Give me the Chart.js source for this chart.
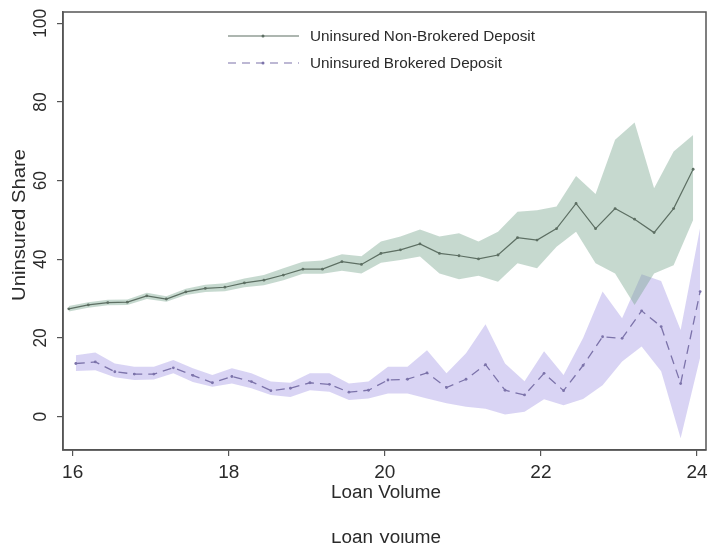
<!DOCTYPE html>
<html>
<head>
<meta charset="utf-8">
<script src="https://cdn.jsdelivr.net/npm/chart.js@4.4.1/dist/chart.umd.min.js"></script>
<style>
  html, body { margin: 0; padding: 0; background: #fff; }
</style>
</head>
<body>
<canvas id="chart" width="710" height="550"></canvas>
<script>
// loan volume bins (x)
const loanVolume = [16, 16.25, 16.5, 16.75, 17, 17.25, 17.5, 17.75, 18, 18.25, 18.5, 18.75,
  19, 19.25, 19.5, 19.75, 20, 20.25, 20.5, 20.75, 21, 21.25, 21.5, 21.75,
  22, 22.25, 22.5, 22.75, 23, 23.25, 23.5, 23.75, 24];

// uninsured non-brokered deposit share, with confidence band
const nonBrokered = [27.4, 28.4, 29.0, 29.1, 30.7, 29.9, 31.7, 32.6, 32.9, 34.0, 34.7, 36.0,
  37.5, 37.5, 39.4, 38.7, 41.5, 42.4, 43.9, 41.5, 40.9, 40.1, 41.1, 45.5,
  44.9, 47.8, 54.2, 47.8, 52.9, 50.2, 46.8, 52.9, 62.9];
const nonBrokeredHigh = [28.1, 29.1, 29.7, 29.8, 31.5, 30.6, 32.5, 33.5, 33.9, 35.1, 36.0, 37.7,
  39.4, 39.7, 41.3, 40.8, 44.5, 45.8, 47.6, 45.8, 46.6, 44.5, 47.0, 52.1,
  52.5, 53.4, 61.2, 56.6, 70.4, 74.8, 58.1, 67.4, 71.6];
const nonBrokeredLow = [26.7, 27.7, 28.3, 28.4, 29.9, 29.2, 30.9, 31.7, 31.9, 32.9, 33.4, 34.7,
  36.3, 36.3, 37.1, 36.4, 39.1, 39.8, 40.7, 36.4, 34.9, 35.8, 34.3, 39.0,
  37.7, 43.2, 47.0, 39.0, 36.4, 28.4, 36.4, 38.5, 50.0];

// uninsured brokered deposit share, with confidence band
const brokered = [13.5, 13.9, 11.4, 10.8, 10.8, 12.4, 10.5, 8.6, 10.2, 8.9, 6.6, 7.2,
  8.6, 8.2, 6.2, 6.7, 9.3, 9.5, 11.1, 7.4, 9.5, 13.2, 6.7, 5.5,
  11.0, 6.6, 13.0, 20.3, 19.9, 26.9, 22.9, 8.4, 31.8];
const brokeredHigh = [15.6, 16.3, 13.5, 12.7, 12.7, 14.4, 12.3, 10.6, 12.3, 11.0, 8.9, 8.6,
  11.0, 11.0, 8.4, 8.9, 12.7, 12.7, 16.9, 11.0, 16.1, 23.5, 13.5, 9.0,
  16.6, 10.6, 20.0, 31.8, 25.0, 36.2, 34.5, 22.0, 48.0];
const brokeredLow = [11.6, 11.8, 10.0, 9.3, 9.4, 11.0, 8.8, 7.6, 8.4, 7.2, 5.5, 5.0,
  6.7, 6.3, 4.2, 4.6, 5.9, 5.9, 4.6, 3.4, 2.5, 2.0, 0.5, 1.2,
  4.4, 2.9, 4.5, 8.0, 14.0, 17.8, 11.5, -5.5, 15.0];

const xTicks = [16, 18, 20, 22, 24];
const yTicks = [0, 20, 40, 60, 80, 100];

const greenLine = "#5d6f63";
const greenBand = "rgba(120,165,140,0.42)";
const purpleLine = "#7c73aa";
const purpleBand = "rgba(150,135,225,0.36)";
const frameColor = "#555";
const textColor = "#2a2a2a";

const pts = (ys, dx) => ys.map((y, i) => ({ x: loanVolume[i] + dx, y }));

function stretchedText(ctx, text, x, y, size, width, angle) {
  ctx.save();
  ctx.font = size + "px 'Liberation Sans', Arial, sans-serif";
  const w = ctx.measureText(text).width;
  ctx.translate(x, y);
  if (angle) ctx.rotate(angle);
  ctx.scale(width / w, 1);
  ctx.textAlign = "center";
  ctx.textBaseline = "middle";
  ctx.fillStyle = textColor;
  ctx.fillText(text, 0, 0);
  ctx.restore();
}

const decor = {
  id: "decor",
  afterDraw(chart) {
    const ctx = chart.ctx;
    const a = chart.chartArea;
    const ys = chart.scales.y;
    ctx.save();
    // frame
    ctx.strokeStyle = frameColor;
    ctx.lineWidth = 1.5;
    ctx.strokeRect(a.left, a.top, a.right - a.left, a.bottom - a.top);
    // y tick labels, rotated
    yTicks.forEach((v) => {
      const t = String(v);
      stretchedText(ctx, t, 41, ys.getPixelForValue(v), 18, t.length * 9.6, -Math.PI / 2);
    });
    // axis titles
    stretchedText(ctx, "Uninsured Share", 20, 225, 18, 152, -Math.PI / 2);
    stretchedText(ctx, "Loan Volume", 386, 493, 18, 110, 0);
    // cropped duplicate title at the bottom edge
    ctx.save();
    ctx.beginPath();
    ctx.rect(0, 533, 710, 17);
    ctx.clip();
    stretchedText(ctx, "Loan Volume", 386, 538, 18, 110, 0);
    ctx.restore();
    // legend
    ctx.lineWidth = 1.2;
    ctx.strokeStyle = greenLine;
    ctx.beginPath(); ctx.moveTo(228, 36); ctx.lineTo(299, 36); ctx.stroke();
    ctx.fillStyle = greenLine;
    ctx.beginPath(); ctx.arc(263, 36, 1.5, 0, Math.PI * 2); ctx.fill();
    ctx.strokeStyle = purpleLine;
    ctx.setLineDash([8, 6]);
    ctx.beginPath(); ctx.moveTo(228, 63); ctx.lineTo(299, 63); ctx.stroke();
    ctx.setLineDash([]);
    ctx.fillStyle = purpleLine;
    ctx.beginPath(); ctx.arc(263, 63, 1.5, 0, Math.PI * 2); ctx.fill();
    ctx.save();
    ctx.font = "15px 'Liberation Sans', Arial, sans-serif";
    const sx = 225 / ctx.measureText("Uninsured Non-Brokered Deposit").width;
    ctx.restore();
    [["Uninsured Non-Brokered Deposit", 37], ["Uninsured Brokered Deposit", 64]].forEach(([t, y]) => {
      ctx.save();
      ctx.font = "15px 'Liberation Sans', Arial, sans-serif";
      ctx.translate(310, y);
      ctx.scale(sx, 1);
      ctx.textBaseline = "middle";
      ctx.fillStyle = textColor;
      ctx.fillText(t, 0, 0);
      ctx.restore();
    });
    ctx.restore();
  }
};

new Chart(document.getElementById("chart"), {
  type: "line",
  data: {
    datasets: [
      { data: pts(nonBrokeredHigh, -0.05), borderWidth: 0, pointRadius: 0, fill: "+1", backgroundColor: greenBand, order: 2 },
      { data: pts(nonBrokeredLow, -0.05), borderWidth: 0, pointRadius: 0, fill: false, order: 2 },
      { label: "Uninsured Non-Brokered Deposit", data: pts(nonBrokered, -0.05), borderColor: greenLine, borderWidth: 1.2,
        pointRadius: 1.4, pointBackgroundColor: greenLine, pointBorderWidth: 0, fill: false, order: 1 },
      { data: pts(brokeredHigh, 0.04), borderWidth: 0, pointRadius: 0, fill: "+1", backgroundColor: purpleBand, order: 2 },
      { data: pts(brokeredLow, 0.04), borderWidth: 0, pointRadius: 0, fill: false, order: 2 },
      { label: "Uninsured Brokered Deposit", data: pts(brokered, 0.04), borderColor: purpleLine, borderWidth: 1.3,
        borderDash: [9, 6], pointRadius: 1.4, pointBackgroundColor: purpleLine, pointBorderWidth: 0, fill: false, order: 1 }
    ]
  },
  options: {
    responsive: false,
    animation: false,
    devicePixelRatio: 1,
    layout: { padding: { top: 12, right: 2, left: 0, bottom: 0 } },
    plugins: { legend: { display: false }, tooltip: { enabled: false } },
    elements: { line: { tension: 0 } },
    scales: {
      x: {
        type: "linear", min: 15.876, max: 24.115,
        afterBuildTicks: (s) => { s.ticks = xTicks.map((v) => ({ value: v })); },
        afterFit: (s) => { s.height = 100; s.paddingLeft = 0; s.paddingRight = 0; },
        ticks: { color: textColor, font: { size: 19, family: "'Liberation Sans', Arial, sans-serif" }, padding: 5, maxRotation: 0 },
        grid: { display: true, drawOnChartArea: false, drawTicks: true, tickLength: 6, color: frameColor, lineWidth: 1.2 },
        border: { display: true, color: frameColor, width: 1.5 }
      },
      y: {
        type: "linear", min: -8.5, max: 102.9,
        afterBuildTicks: (s) => { s.ticks = yTicks.map((v) => ({ value: v })); },
        afterFit: (s) => { s.width = 63; s.paddingTop = 0; s.paddingBottom = 0; },
        ticks: { display: false },
        grid: { display: true, drawOnChartArea: false, drawTicks: true, tickLength: 6, color: frameColor, lineWidth: 1.2 },
        border: { display: true, color: frameColor, width: 1.5 }
      }
    }
  },
  plugins: [decor]
});
</script>
</body>
</html>
